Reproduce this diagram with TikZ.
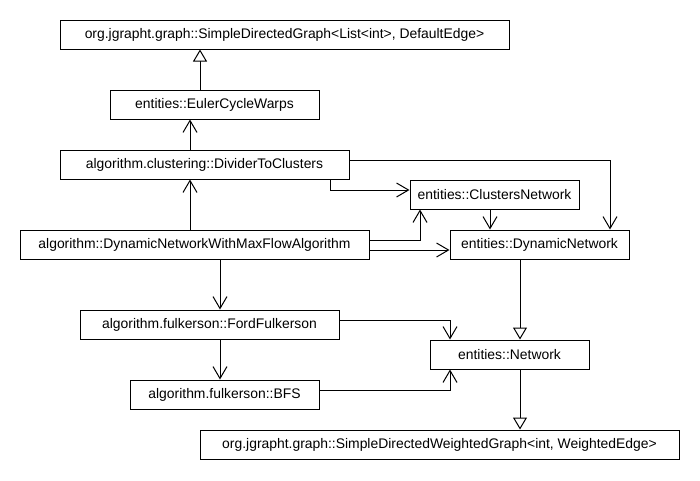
\documentclass[tikz,border=0pt]{standalone}
\usepackage{fontspec}
\setmainfont{Liberation Sans}
\usetikzlibrary{arrows.meta}
\begin{document}
\begin{tikzpicture}[x=1pt,y=-1pt,
  box/.style={draw=black, line width=1pt, inner sep=0pt, minimum height=29pt,
    font=\fontsize{13.9}{16}\selectfont, fill=white},
  dep/.style={draw=black, line width=1pt, -{Straight Barb[length=12pt,width=14pt,line width=1pt]}},
  inh/.style={draw=black, line width=1pt, -{Triangle[open,length=12pt,width=14pt,line width=1pt,fill=white]}}
]
\fill[white] (0,0) rectangle (700,480);
\useasboundingbox (0,0) rectangle (700,480);

\node[box, minimum width=449pt] (A) at (284.5,34.5) {org.jgrapht.graph::SimpleDirectedGraph<List<int>, DefaultEdge>};
\node[box, minimum width=209pt] (B) at (214.5,104.5) {entities::EulerCycleWarps};
\node[box, minimum width=289pt] (C) at (204.5,164.5) {algorithm.clustering::DividerToClusters};
\node[box, minimum width=169pt] (CN) at (494.5,194.5) {entities::ClustersNetwork};
\node[box, minimum width=349pt] (E) at (194.5,244.5) {algorithm::DynamicNetworkWithMaxFlowAlgorithm};
\node[box, minimum width=179pt] (DN) at (539.5,244.5) {entities::DynamicNetwork};
\node[box, minimum width=259pt] (FF) at (209.5,324.5) {algorithm.fulkerson::FordFulkerson};
\node[box, minimum width=159pt] (NW) at (509.5,354.5) {entities::Network};
\node[box, minimum width=189pt] (BFS) at (224.5,394.5) {algorithm.fulkerson::BFS};
\node[box, minimum width=479pt] (J) at (439.5,444.5) {org.jgrapht.graph::SimpleDirectedWeightedGraph<int, WeightedEdge>};

\coordinate (x190) at (190,0);
\coordinate (x200) at (200,0);
\coordinate (x220) at (220,0);
\coordinate (x330) at (330,0);
\coordinate (x420) at (420,0);
\coordinate (x450) at (450,0);
\coordinate (x490) at (490,0);
\coordinate (x520) at (520,0);
\coordinate (x610) at (610,0);
\coordinate (y160) at (0,160);
\coordinate (y190) at (0,190);
\coordinate (y240) at (0,240);
\coordinate (y250) at (0,250);
\coordinate (y320) at (0,320);
\coordinate (y390) at (0,390);

\draw[inh] (B.north -| x200) -- (A.south -| x200);
\draw[dep] (C.north -| x190) -- (B.south -| x190);
\draw[dep] (E.north -| x190) -- (C.south -| x190);
\draw[dep] (C.south -| x330) |- (CN.west |- y190);
\draw[dep] (C.east |- y160) -| (DN.north -| x610);
\draw[dep] (CN.south -| x490) -- (DN.north -| x490);
\draw[dep] (E.east |- y240) -| (CN.south -| x420);
\draw[dep] (E.east |- y250) -- (DN.west |- y250);
\draw[inh] (DN.south -| x520) -- (NW.north -| x520);
\draw[dep] (E.south -| x220) -- (FF.north -| x220);
\draw[dep] (FF.south -| x220) -- (BFS.north -| x220);
\draw[dep] (FF.east |- y320) -| (NW.north -| x450);
\draw[dep] (BFS.east |- y390) -| (NW.south -| x450);
\draw[inh] (NW.south -| x520) -- (J.north -| x520);
\end{tikzpicture}
\end{document}
